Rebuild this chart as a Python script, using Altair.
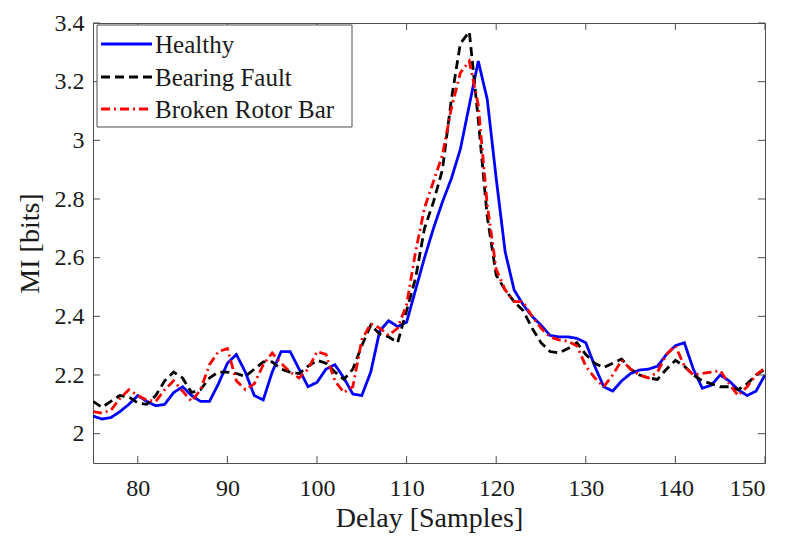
import altair as alt
import pandas as pd

# ---------------- data ----------------
delay = list(range(75, 151))

healthy = [2.06, 2.05, 2.055, 2.075, 2.10, 2.13, 2.11, 2.095, 2.10, 2.14,
           2.16, 2.13, 2.11, 2.11, 2.17, 2.24, 2.27, 2.21, 2.13, 2.115,
           2.21, 2.28, 2.28, 2.22, 2.16, 2.175, 2.22, 2.235, 2.19, 2.135,
           2.13, 2.21, 2.35, 2.385, 2.365, 2.38, 2.49, 2.60, 2.70, 2.79,
           2.87, 2.97, 3.12, 3.27, 3.14, 2.87, 2.62, 2.49, 2.44, 2.40,
           2.37, 2.335, 2.33, 2.33, 2.325, 2.31, 2.23, 2.16, 2.145, 2.18,
           2.205, 2.217, 2.22, 2.23, 2.27, 2.30, 2.31, 2.22, 2.155, 2.165,
           2.20, 2.18, 2.15, 2.13, 2.145, 2.20]

bearing = [2.11, 2.09, 2.11, 2.13, 2.125, 2.105, 2.10, 2.13, 2.18, 2.21,
           2.19, 2.14, 2.15, 2.19, 2.21, 2.21, 2.205, 2.195, 2.22, 2.245,
           2.245, 2.22, 2.21, 2.205, 2.23, 2.25, 2.24, 2.21, 2.185, 2.22,
           2.30, 2.37, 2.34, 2.33, 2.31, 2.42, 2.53, 2.70, 2.79, 2.90,
           3.14, 3.33, 3.37, 3.07, 2.74, 2.54, 2.49, 2.45, 2.42, 2.36,
           2.31, 2.28, 2.275, 2.29, 2.31, 2.27, 2.24, 2.225, 2.24, 2.255,
           2.22, 2.20, 2.19, 2.185, 2.22, 2.25, 2.23, 2.20, 2.18, 2.17,
           2.16, 2.16, 2.15, 2.17, 2.20, 2.22]

broken = [2.075, 2.07, 2.08, 2.12, 2.15, 2.13, 2.115, 2.11, 2.15, 2.18,
          2.145, 2.11, 2.15, 2.235, 2.28, 2.29, 2.18, 2.15, 2.17, 2.235,
          2.275, 2.24, 2.21, 2.19, 2.22, 2.28, 2.27, 2.18, 2.14, 2.16,
          2.32, 2.375, 2.36, 2.335, 2.36, 2.44, 2.62, 2.77, 2.86, 2.95,
          3.11, 3.23, 3.27, 3.12, 2.78, 2.56, 2.49, 2.45, 2.45, 2.40,
          2.36, 2.33, 2.32, 2.315, 2.30, 2.23, 2.19, 2.16, 2.20, 2.25,
          2.22, 2.20, 2.19, 2.21, 2.27, 2.30, 2.23, 2.20, 2.205, 2.21,
          2.215, 2.17, 2.13, 2.16, 2.20, 2.225]

series_names = ["Healthy", "Bearing Fault", "Broken Rotor Bar"]
series_colors = ["#0000FF", "#000000", "#FF0000"]
series_dashes = [[1, 0], [9, 5], [9, 4, 2, 4]]

x_ticks = [80, 90, 100, 110, 120, 130, 140, 150]
y_ticks = [2.0, 2.2, 2.4, 2.6, 2.8, 3.0, 3.2, 3.4]

# ---------------- layout ----------------
W, H = 672, 440
FONT = "Liberation Serif"
TXT = "#1a1a1a"
FRAME = "#4d4d4d"
TL = 7

x_scale = alt.Scale(domain=[75, 150], nice=False, zero=False)
y_scale = alt.Scale(domain=[1.9, 3.4], nice=False, zero=False)

x_axis = alt.Axis(values=x_ticks, title="Delay [Samples]", ticks=False, domain=False,
                  grid=False, labelFont=FONT, labelFontSize=24, labelColor=TXT,
                  labelPadding=13, titleFont=FONT, titleFontSize=28,
                  titleFontWeight="normal", titleColor=TXT, titlePadding=4)
y_axis = alt.Axis(values=y_ticks, title="MI [bits]", format="~g", ticks=False, domain=False,
                  grid=False, labelFont=FONT, labelFontSize=24, labelColor=TXT,
                  labelPadding=9, titleFont=FONT, titleFontSize=28,
                  titleFontWeight="normal", titleColor=TXT, titlePadding=10)

layers = []
for i, (name, vals) in enumerate(zip(series_names, [healthy, bearing, broken])):
    df = pd.DataFrame({"Delay": delay, "MI": vals, "Series": name})
    layers.append(
        alt.Chart(df).mark_line(
            color=series_colors[i], strokeWidth=2.8, strokeDash=series_dashes[i],
            strokeCap="butt", clip=True
        ).encode(
            x=alt.X("Delay:Q", scale=x_scale, axis=x_axis),
            y=alt.Y("MI:Q", scale=y_scale, axis=y_axis),
        )
    )

xt = pd.DataFrame({"Delay": x_ticks})
yt = pd.DataFrame({"MI": y_ticks})
tick_style = dict(color=FRAME, strokeWidth=1)
layers += [
    alt.Chart(xt).mark_rule(**tick_style).encode(
        x=alt.X("Delay:Q", scale=x_scale, axis=x_axis), y=alt.value(H), y2=alt.value(H - TL)),
    alt.Chart(xt).mark_rule(**tick_style).encode(
        x=alt.X("Delay:Q", scale=x_scale, axis=x_axis), y=alt.value(0), y2=alt.value(TL)),
    alt.Chart(yt).mark_rule(**tick_style).encode(
        y=alt.Y("MI:Q", scale=y_scale, axis=y_axis), x=alt.value(0), x2=alt.value(TL)),
    alt.Chart(yt).mark_rule(**tick_style).encode(
        y=alt.Y("MI:Q", scale=y_scale, axis=y_axis), x=alt.value(W), x2=alt.value(W - TL)),
]

# ---------------- legend (manual) ----------------
one = pd.DataFrame({"a": [0]})
layers.append(
    alt.Chart(one).mark_rect(fill="white", stroke=FRAME, strokeWidth=1).encode(
        x=alt.value(4), x2=alt.value(259), y=alt.value(2), y2=alt.value(104))
)
row_y = [21, 54, 86]
for i, name in enumerate(series_names):
    layers.append(
        alt.Chart(one).mark_rule(color=series_colors[i], strokeWidth=2.8,
                                 strokeDash=series_dashes[i], strokeCap="butt").encode(
            x=alt.value(8), x2=alt.value(59), y=alt.value(row_y[i]), y2=alt.value(row_y[i]))
    )
    layers.append(
        alt.Chart(one).mark_text(align="left", baseline="middle", font=FONT,
                                 fontSize=25, color=TXT).encode(
            x=alt.value(62), y=alt.value(row_y[i] + 1), text=alt.value(name))
    )

chart = alt.layer(*layers).properties(
    width=W, height=H,
    padding={"left": 93, "top": 23, "right": 21, "bottom": 79},
    autosize=alt.AutoSizeParams(type="none"),
    background="white",
).configure_view(stroke=FRAME, strokeWidth=1)

chart.save("out.html", embed_options={"renderer": "svg", "actions": False})
